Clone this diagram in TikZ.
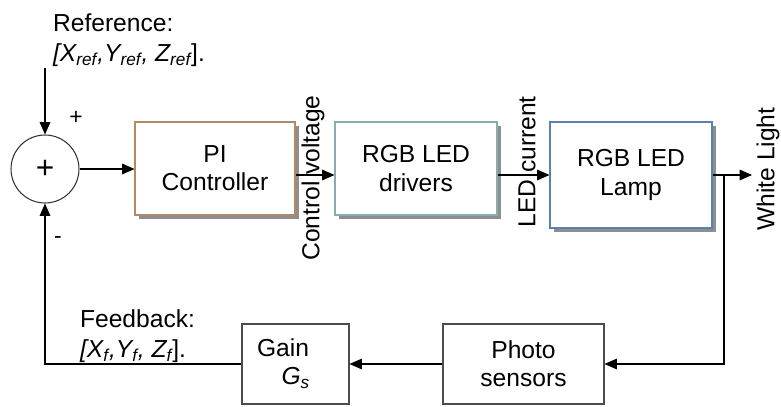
\documentclass[tikz,border=0pt]{standalone}
\usepackage{fontspec}
\setmainfont{Liberation Sans}
\usepackage{tikz}
\usetikzlibrary{arrows.meta, positioning, shadows, calc}
\definecolor{ledbrown}{HTML}{B08A64}
\definecolor{ledteal}{HTML}{86AEAE}
\definecolor{ledblue}{HTML}{5B7FAE}
\definecolor{ledshadow}{HTML}{8E8E8E}
\tikzset{
  blockfont/.style={font=\fontsize{14}{16}\selectfont},
  shadowed/.style={drop shadow={shadow xshift=0.08cm, shadow yshift=-0.08cm, fill=ledshadow, opacity=1}},
  pinode/.style={blockfont, draw=ledbrown, fill=white, line width=0.6pt, shadowed, minimum width=3.2cm, minimum height=1.86cm, align=center},
  drvnode/.style={blockfont, draw=ledteal, fill=white, line width=0.6pt, shadowed, minimum width=3.24cm, minimum height=1.86cm, align=center},
  lampnode/.style={blockfont, draw=ledblue, fill=white, line width=0.6pt, shadowed, minimum width=3.24cm, minimum height=2.12cm, align=center},
  sensenode/.style={blockfont, draw=black!70, fill=white, line width=0.6pt, minimum width=3.22cm, minimum height=1.6cm, align=center},
  gainnode/.style={blockfont, draw=black!70, fill=white, line width=0.6pt, minimum width=2.14cm, minimum height=1.6cm, inner xsep=0.3cm, text width=1.54cm, align=left},
  sumnode/.style={circle, draw=black!80, line width=0.6pt, minimum size=1.36cm, inner sep=0pt, font=\fontsize{18}{18}\selectfont},
  sigline/.style={-{Triangle[length=7pt, width=6pt]}, line width=0.6pt, draw=black},
  siglabel/.style={blockfont, inner sep=1pt, rotate=90},
  notelabel/.style={font=\fontsize{14}{17}\selectfont, inner sep=1pt, align=left},
  signlabel/.style={font=\fontsize{13}{13}\selectfont, inner sep=0pt}
}

\begin{document}
\begin{tikzpicture}[x=0.02cm, y=-0.02cm]
  \useasboundingbox (0,0) rectangle (781,406);

  \node[sumnode] at (45,169) (sum) {+};
  \node[pinode] at (215,168.5) (pi) {PI \\ Controller};
  \node[drvnode] at (416,168.5) (drv) {RGB LED \\ drivers};
  \node[lampnode] at (631,175) (lamp) {RGB LED \\ Lamp};
  \node[sensenode] at (523.5,364) (photo) {Photo \\ sensors};
  \node[gainnode] at (295.5,364) (gain)
    {Gain \\ \hspace*{1em}\textit{G}\textsubscript{\textit{s}}};

  \coordinate (ref) at (45,68);
  \coordinate (out) at (752,175);
  \coordinate (branch) at (724,175);

  \node[notelabel, anchor=west] at (51,40) (reflabel)
    {Reference: \\ \textit{[X\textsubscript{ref},Y\textsubscript{ref}, Z\textsubscript{ref}}].};
  \node[notelabel, anchor=west] at (78,336) (fblabel)
    {Feedback: \\ \textit{[X\textsubscript{f},Y\textsubscript{f}, Z\textsubscript{f}}].};
  \node[signlabel] at (76,118) (plus) {+};
  \node[signlabel] at (58,240) (minus) {-};

  \node[siglabel] at (313,178) (ctrlv) {Control voltage};
  \node[siglabel] at (527,162) (ledi) {LED current};
  \node[siglabel] at (768,169) (white) {White Light};

  % forward path
  \draw[sigline] (ref) -- (sum.north);
  \draw[sigline] (sum.east) -- (pi.west |- sum.east);
  \draw[sigline] (pi.east |- lamp.west) -- (drv.west |- lamp.west);
  \draw[sigline] (drv.east |- lamp.west) -- (lamp.west);
  \draw[sigline] (lamp.east) -- (out);

  % feedback path
  \draw[sigline] (branch) |- (photo.east);
  \draw[sigline] (photo.west) -- (gain.east);
  \draw[sigline] (gain.west) -| (sum.south);
\end{tikzpicture}
\end{document}
